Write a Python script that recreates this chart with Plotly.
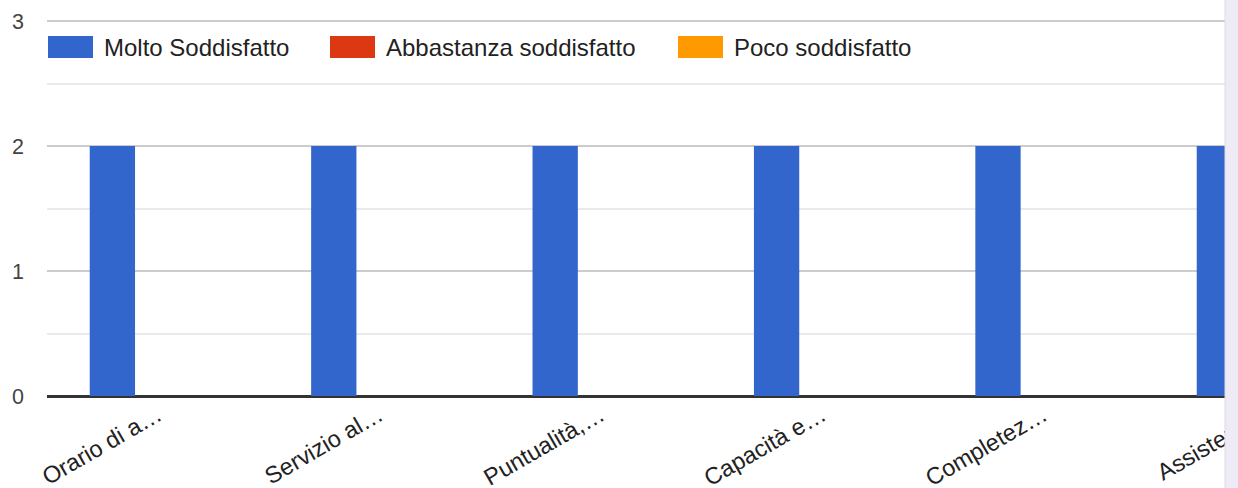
import plotly.graph_objects as go

# ---------------- data ----------------
categories = ["Orario di a…", "Servizio al…", "Puntualità,…", "Capacità e…", "Completez…", "Assistenz…"]
series_names = ["Molto Soddisfatto", "Abbastanza soddisfatto", "Poco soddisfatto"]
molto_soddisfatto = [2, 2, 2, 2, 2, 2]
abbastanza_soddisfatto = [0, 0, 0, 0, 0, 0]
poco_soddisfatto = [0, 0, 0, 0, 0, 0]
y_tick_values = [0, 1, 2, 3]
y_tick_labels = ["0", "1", "2", "3"]

# ---------------- style ----------------
colors = ["#3366CC", "#DC3912", "#FF9900"]
FONT = 'Arial, "Liberation Sans", sans-serif'

W, H = 1238, 488
PX_PER_UNIT = 125.0                 # vertical pixels per value unit
TOP_PAD = 2                         # px above the y=3 gridline so it is drawn
L, R, T, B = 47, 13, 21 - TOP_PAD, 92
plot_w = W - L - R
plot_h = H - T - B
y_range = [0, plot_h / PX_PER_UNIT]
CAT_PX = 221.4                      # width of one category slot in pixels
x_idx = list(range(len(categories)))
x_range = [-0.5, -0.5 + plot_w / CAT_PX]
LABEL_SHIFT_PX = 89                 # ticks placed inside range, labels shifted back
LABEL_SHIFT = LABEL_SHIFT_PX / CAT_PX


def px_x(px):
    return (px - L) / plot_w


def px_y(py):
    return 1 - (py - T) / plot_h


fig = go.Figure()
for name, vals, col in zip(series_names,
                           [molto_soddisfatto, abbastanza_soddisfatto, poco_soddisfatto],
                           colors):
    fig.add_trace(go.Bar(x=x_idx, y=vals, name=name,
                         marker=dict(color=col, line=dict(width=0)),
                         showlegend=False, hoverinfo="skip"))

fig.update_layout(
    width=W, height=H, autosize=False,
    margin=dict(l=L, r=R, t=T, b=B, pad=0),
    paper_bgcolor="white", plot_bgcolor="white",
    barmode="group", bargap=0.386, bargroupgap=0,
    font=dict(family=FONT),
    showlegend=False,
)

fig.update_xaxes(
    type="linear", range=x_range,
    tickmode="array",
    tickvals=[i - LABEL_SHIFT for i in x_idx],
    ticktext=categories,
    ticklabelshift=LABEL_SHIFT_PX,
    ticklabeloverflow="allow",
    tickangle=-30,
    ticks="", showgrid=False, zeroline=False, showline=False,
    tickfont=dict(family=FONT, size=23.5, color="#222222"),
    automargin=False, fixedrange=True,
)

fig.update_yaxes(
    range=y_range,
    tickmode="array", tickvals=y_tick_values, ticktext=y_tick_labels,
    showgrid=True, gridcolor="#cccccc", gridwidth=2,
    minor=dict(tickmode="linear", tick0=0, dtick=0.5, showgrid=True,
               gridcolor="#ebebeb", gridwidth=2),
    zeroline=True, zerolinecolor="#333333", zerolinewidth=3,
    ticks="", ticklabelstandoff=22,
    tickfont=dict(family=FONT, size=21.5, color="#444444"),
    automargin=False, fixedrange=True,
)

# ---------------- custom legend (swatches 45x22) ----------------
legend_swatch_x = [48, 330, 678]
sw_w, sw_top, sw_bot = 45, 36, 58
for name, col, sx in zip(series_names, colors, legend_swatch_x):
    fig.add_shape(type="rect", xref="paper", yref="paper",
                  x0=px_x(sx), x1=px_x(sx + sw_w),
                  y0=px_y(sw_bot), y1=px_y(sw_top),
                  fillcolor=col, line=dict(width=0), layer="above")
    fig.add_annotation(xref="paper", yref="paper",
                       x=px_x(sx + sw_w + 9), y=px_y((sw_top + sw_bot) / 2),
                       xanchor="left", yanchor="middle", showarrow=False,
                       text=name, font=dict(family=FONT, size=24, color="#222222"))

# ---------------- right-side strip (page scrollbar track) ----------------
fig.add_shape(type="rect", xref="paper", yref="paper",
              x0=1, x1=1 + (R + 10) / plot_w,
              y0=-(B + 10) / plot_h, y1=1 + (T + 10) / plot_h,
              fillcolor="#EEEBF7", line=dict(color="#DCDCE4", width=1), layer="above")

fig.write_html("out.html", config={"displayModeBar": False, "staticPlot": True},
               post_script="document.body.style.margin='0px';")
